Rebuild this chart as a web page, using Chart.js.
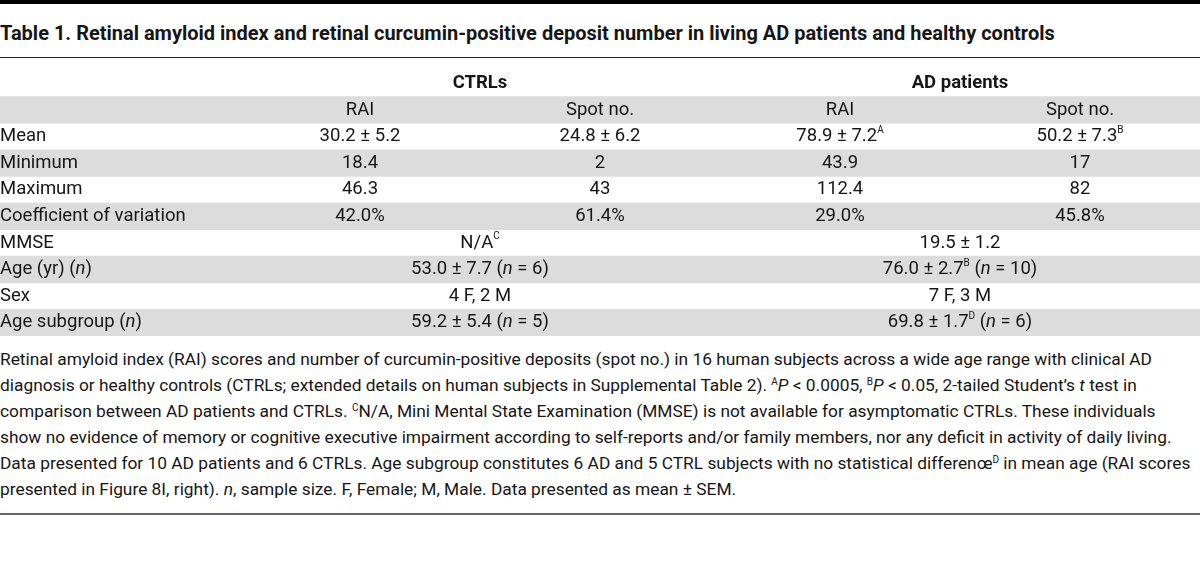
<!DOCTYPE html>
<html>
<head>
<meta charset="utf-8">
<script src="https://cdn.jsdelivr.net/npm/chart.js@4.4.0/dist/chart.umd.min.js"></script>
<style>
  body { margin: 0; background: #fff; font-family: Roboto, sans-serif; color: #161616; }
  #page { position: relative; width: 1200px; height: 588px; overflow: hidden; }
  .rule { position: absolute; left: 0; width: 1200px; }
  #title { position: absolute; left: 0; top: 21px; font-weight: 700; font-size: 19.5px; line-height: 24px; white-space: nowrap; }
  #caption { position: absolute; left: 0; top: 346px; font-size: 17.4px; line-height: 26px; }
  #caption div { white-space: nowrap; height: 26px; }
  sup { font-size: 10px; vertical-align: 6px; line-height: 0; }
  #wrap { position: absolute; left: 0; top: 70px; width: 1200px; height: 266px; }
</style>
</head>
<body>
<div id="page">
  <div class="rule" style="top:0;height:4px;background:#000"></div>
  <div id="title">Table 1. Retinal amyloid index and retinal curcumin-positive deposit number in living AD patients and healthy controls</div>
  <div class="rule" style="top:57px;height:1px;background:#222"></div>
  <div id="wrap"><canvas id="tableChart" width="1200" height="266"></canvas></div>
  <div id="caption">
    <div id="cap1">Retinal amyloid index (RAI) scores and number of curcumin-positive deposits (spot no.) in 16 human subjects across a wide age range with clinical AD</div>
    <div>diagnosis or healthy controls (CTRLs; extended details on human subjects in Supplemental Table 2). <sup>A</sup><i>P</i> &lt; 0.0005, <sup>B</sup><i>P</i> &lt; 0.05, 2-tailed Student’s <i>t</i> test in</div>
    <div>comparison between AD patients and CTRLs. <sup>C</sup>N/A, Mini Mental State Examination (MMSE) is not available for asymptomatic CTRLs. These individuals</div>
    <div>show no evidence of memory or cognitive executive impairment according to self-reports and/or family members, nor any deficit in activity of daily living.</div>
    <div>Data presented for 10 AD patients and 6 CTRLs. Age subgroup constitutes 6 AD and 5 CTRL subjects with no statistical differenœ<sup>D</sup> in mean age (RAI scores</div>
    <div>presented in Figure 8I, right). <i>n</i>, sample size. F, Female; M, Male. Data presented as mean ± SEM.</div>
  </div>
  <div class="rule" style="top:513px;height:2px;background:#666"></div>
</div>
<script>
// table content (^X = superscript, *x* = italic)
const groups = ['CTRLs', 'AD patients'];
const measures = ['RAI', 'Spot no.'];
const rowLabels = ['Mean', 'Minimum', 'Maximum', 'Coefficient of variation', 'MMSE', 'Age (yr) (*n*)', 'Sex', 'Age subgroup (*n*)'];
const ctrlRAI = ['30.2 ± 5.2', '18.4', '46.3', '42.0%'];
const ctrlSpot = ['24.8 ± 6.2', '2', '43', '61.4%'];
const adRAI = ['78.9 ± 7.2^A', '43.9', '112.4', '29.0%'];
const adSpot = ['50.2 ± 7.3^B', '17', '82', '45.8%'];
// rows where the two columns of a group are merged (MMSE .. Age subgroup)
const ctrlMerged = ['N/A^C', '53.0 ± 7.7 (*n* = 6)', '4 F, 2 M', '59.2 ± 5.4 (*n* = 5)'];
const adMerged = ['19.5 ± 1.2', '76.0 ± 2.7^B (*n* = 10)', '7 F, 3 M', '69.8 ± 1.7^D (*n* = 6)'];

const rows = ['', ''].concat(rowLabels); // group header row + measure header row
const FS = 18.5;

function parts(str) {
  const out = [];
  const re = /\^([A-Z])|\*([^*]+)\*|([^\^*]+)/g;
  let m;
  while ((m = re.exec(str))) {
    if (m[1]) out.push({ t: m[1], f: '400 10px Roboto', dy: -6 });
    else if (m[2]) out.push({ t: m[2], f: 'italic 400 ' + FS + 'px Roboto', dy: 0 });
    else out.push({ t: m[3], f: '400 ' + FS + 'px Roboto', dy: 0 });
  }
  return out;
}

function drawRich(ctx, str, px, py, align, bold) {
  let segs = parts(str);
  if (bold) segs = segs.map(s => ({ ...s, f: s.f.replace('400', '700') }));
  let w = 0;
  segs.forEach(s => { ctx.font = s.f; s.w = ctx.measureText(s.t).width; w += s.w; });
  let cx = align === 'center' ? px - w / 2 : px;
  segs.forEach(s => {
    ctx.font = s.f;
    ctx.fillText(s.t, cx, py + s.dy);
    cx += s.w;
  });
}

const cellText = {
  id: 'cellText',
  afterDatasetsDraw(chart) {
    const { ctx, scales: { x, y } } = chart;
    ctx.save();
    ctx.fillStyle = '#161616';
    ctx.textBaseline = 'middle';
    ctx.textAlign = 'left';
    const left = x.getPixelForValue(-0.5);
    groups.forEach((g, i) => {
      drawRich(ctx, g, x.getPixelForValue(1.5 + 2 * i), y.getPixelForValue(0), 'center', true);
      measures.forEach((m, j) => drawRich(ctx, m, x.getPixelForValue(1 + 2 * i + j), y.getPixelForValue(1), 'center'));
    });
    rowLabels.forEach((lab, r) => {
      const py = y.getPixelForValue(r + 2);
      drawRich(ctx, lab, left, py, 'left');
      if (r < ctrlRAI.length) {
        [ctrlRAI, ctrlSpot, adRAI, adSpot].forEach((col, c) => drawRich(ctx, col[r], x.getPixelForValue(c + 1), py, 'center'));
      } else {
        const k = r - ctrlRAI.length;
        drawRich(ctx, ctrlMerged[k], x.getPixelForValue(1.5), py, 'center');
        drawRich(ctx, adMerged[k], x.getPixelForValue(3.5), py, 'center');
      }
    });
    ctx.restore();
  }
};

// size title / caption fonts to the widths the reference lines run to
function fit(el, weight, target) {
  const c = document.createElement('canvas').getContext('2d');
  c.font = weight + ' 100px Roboto';
  const w = c.measureText(el.textContent).width;
  return 100 * target / w;
}

function build() {
  const t = document.getElementById('title');
  t.style.fontSize = fit(t, 700, 1055).toFixed(2) + 'px';
  document.getElementById('caption').style.fontSize = fit(document.getElementById('cap1'), 400, 1153).toFixed(2) + 'px';

  new Chart(document.getElementById('tableChart').getContext('2d'), {
    type: 'bar',
    data: {
      labels: rows.map((r, i) => i),
      datasets: [{
        data: rows.map((r, i) => (i % 2 === 1 ? [-0.5, 4.5] : null)),
        backgroundColor: '#dcdcdd',
        borderWidth: 0,
        borderSkipped: false,
        barPercentage: 1,
        categoryPercentage: 1
      }]
    },
    options: {
      indexAxis: 'y',
      responsive: false,
      animation: false,
      devicePixelRatio: 1,
      layout: { padding: 0 },
      plugins: { legend: { display: false }, tooltip: { enabled: false }, title: { display: false } },
      scales: {
        x: { type: 'linear', min: -0.5, max: 4.5, display: false },
        y: { type: 'category', offset: true, display: false }
      }
    },
    plugins: [cellText]
  });
}

Promise.all([
  document.fonts.load('400 18px Roboto'),
  document.fonts.load('700 18px Roboto'),
  document.fonts.load('italic 400 18px Roboto')
]).then(build, build);
</script>
</body>
</html>
